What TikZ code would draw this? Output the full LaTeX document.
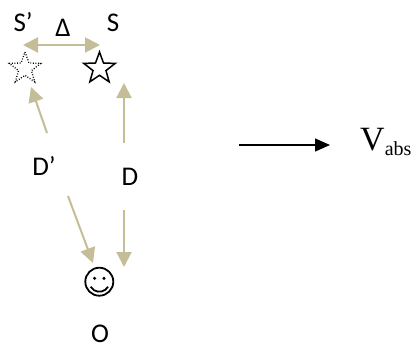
\documentclass[tikz,border=0pt]{standalone}
\usepackage{fontspec}
\setmainfont{Carlito}
\newfontfamily\timesf{Liberation Serif}
\usetikzlibrary{arrows.meta,calc}
\definecolor{tanc}{HTML}{C4BD97}
\begin{document}
\begin{tikzpicture}[x=1pt,y=-1pt,
  tanarrow/.style={draw=tanc, line width=2pt, -{Triangle[length=15pt,width=15pt]}},
  lbl/.style={font=\fontsize{27}{32}\selectfont, inner sep=0, anchor=base}]
\useasboundingbox (0,0) rectangle (415,349);
% labels
\node[lbl] (lSp) at (23,31) {S’};
\node[lbl] (lDelta) at (63,36) {Δ};
\node[lbl] (lS) at (113,31) {S};
\node[lbl] (lDp) at (44,175) {D’};
\node[lbl] (lD) at (130,185) {D};
\node[lbl] (lO) at (100,342) {O};
% stars
\coordinate (S) at (99.5,68.5);
\coordinate (Sp) at (25,68.5);
\draw[line width=1.5pt, line join=miter, shift={(S)}] (-90:16.5)
  \foreach \k in {1,...,9} { -- ({-90+36*\k}:{mod(\k,2)==1 ? 6.8 : 16.5}) } -- cycle;
\draw[line width=1.3pt, dash pattern=on 0.9pt off 1.7pt, shift={(Sp)}] (-90:16.5)
  \foreach \k in {1,...,9} { -- ({-90+36*\k}:{mod(\k,2)==1 ? 6.8 : 16.5}) } -- cycle;
% smiley
\node[circle, draw, line width=1.8pt, minimum size=28pt, inner sep=0] (O) at (99.3,281.7) {};
\fill ($(O.center)+(-4.7,-3.4)$) circle (1.7);
\fill ($(O.center)+(4.7,-3.4)$) circle (1.7);
\draw[line width=1.8pt] ($(O.center)+(0,-0.2)+(31:10.2)$) arc[start angle=31, end angle=149, radius=10.2];
% tan connectors
\coordinate (dl) at (23,45);
\coordinate (dr) at (100,45);
\draw[draw=tanc, line width=2pt, {Triangle[length=15pt,width=15pt]}-{Triangle[length=15pt,width=15pt]}] (dl) -- (dr);
\coordinate (a1s) at (47,133); \coordinate (a1e) at (31,87);
\draw[tanarrow] (a1s) -- (a1e);
\coordinate (a2s) at (68,196); \coordinate (a2e) at (93,263);
\draw[tanarrow] (a2s) -- (a2e);
\coordinate (a3s) at (124,143); \coordinate (a3e) at (124,83);
\draw[tanarrow] (a3s) -- (a3e);
\coordinate (a4s) at (124,210); \coordinate (a4e) at (124,267);
\draw[tanarrow] (a4s) -- (a4e);
% velocity arrow
\coordinate (vs) at (239,145); \coordinate (ve) at (330,145);
\draw[line width=1.3pt, -{Triangle[length=15pt,width=13pt]}] (vs) -- (ve);
\node[anchor=base west, inner sep=0, font=\timesf\fontsize{34}{40}\selectfont] (V) at (360,150) {V\raisebox{-5pt}{\fontsize{20}{24}\selectfont abs}};
\end{tikzpicture}
\end{document}
